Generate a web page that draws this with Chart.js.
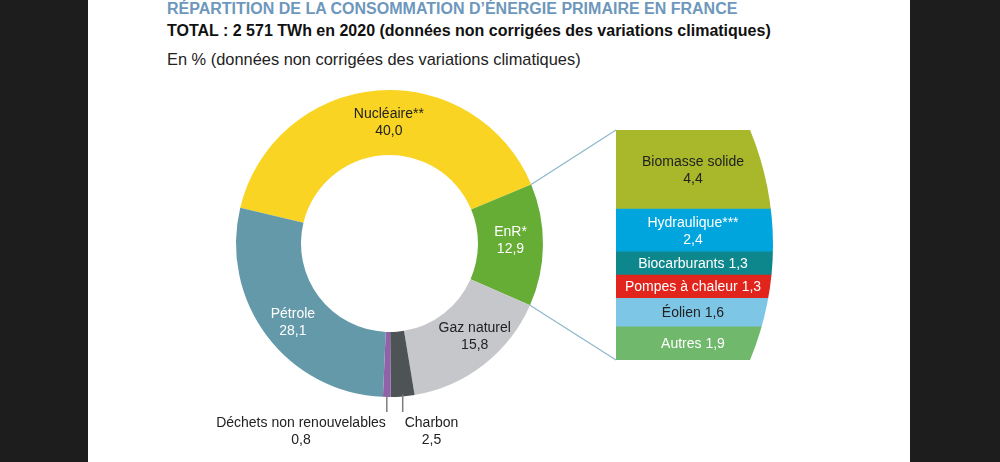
<!DOCTYPE html>
<html lang="fr">
<head>
<meta charset="utf-8">
<title>Répartition de la consommation d'énergie primaire en France</title>
<script src="https://cdn.jsdelivr.net/npm/chart.js@4.4.1/dist/chart.umd.min.js"></script>
<style>
    body {
        margin: 0;
        width: 1000px;
        height: 462px;
        background: #1d1d1e;
        font-family: "Liberation Sans", Arial, Helvetica, sans-serif;
        overflow: hidden;
    }
    #panel {
        position: absolute;
        left: 88px;
        top: 0;
        width: 822px;
        height: 462px;
        background: #fff;
    }
    .txt {
        position: absolute;
        left: 167px;
        font-size: 16px;
        line-height: 18px;
        white-space: nowrap;
    }
    #title { top: 0; font-weight: bold; color: #6e97bc; }
    #total { top: 22px; font-weight: bold; color: #111; }
    #unit { top: 50px; font-size: 16.4px; color: #222; }
    #donutChart { position: absolute; left: 88px; top: 0; }
    #enrChart { position: absolute; left: 616px; top: 130px; }
</style>
</head>
<body>
<div id="panel"></div>
<div class="txt" id="title">RÉPARTITION DE LA CONSOMMATION D’ÉNERGIE PRIMAIRE EN FRANCE</div>
<div class="txt" id="total">TOTAL : 2 571 TWh en 2020 (données non corrigées des variations climatiques)</div>
<div class="txt" id="unit">En % (données non corrigées des variations climatiques)</div>
<canvas id="donutChart" width="822" height="462"></canvas>
<canvas id="enrChart" width="160" height="230"></canvas>
<script>
// main mix, in %
const sources = ["Nucléaire**", "EnR*", "Gaz naturel", "Charbon", "Déchets non renouvelables", "Pétrole"];
const shares = [40.0, 12.9, 15.8, 2.5, 0.8, 28.1];

// detail of EnR, in %, top to bottom
const enrSources = ["Biomasse solide", "Hydraulique***", "Biocarburants", "Pompes à chaleur", "Éolien", "Autres"];
const enrShares = [4.4, 2.4, 1.3, 1.3, 1.6, 1.9];

const sourceColors = ["#f9d422", "#66ad36", "#c6c7ca", "#4e5355", "#9161a9", "#6399a8"];
const sourceTextColors = ["#222", "#fff", "#222", "#222", "#222", "#fff"];
const enrColors = ["#a8b82a", "#00a5dd", "#0e878c", "#e1251c", "#7ec6e6", "#70b86b"];
const enrTextColors = ["#222", "#fff", "#fff", "#fff", "#222", "#fff"];

const FONT = '14px "Liberation Sans", Arial, sans-serif';

function fr(v) {
    return v.toFixed(1).replace(".", ",");
}

Chart.defaults.font.family = '"Liberation Sans", Arial, sans-serif';

// ---- EnR stacked bar (curved right side) ----
const enrTotal = enrShares.reduce((a, b) => a + b, 0);

const curveClip = {
    id: "curveClip",
    beforeDatasetsDraw(chart) {
        const ctx = chart.ctx;
        ctx.save();
        ctx.beginPath();
        ctx.arc(-142, 115, 299, 0, Math.PI * 2);
        ctx.clip();
    },
    afterDatasetsDraw(chart) {
        const ctx = chart.ctx;
        ctx.restore();
        ctx.save();
        ctx.font = FONT;
        ctx.textAlign = "center";
        ctx.textBaseline = "middle";
        chart.data.datasets.forEach((ds, i) => {
            const bar = chart.getDatasetMeta(i).data[0];
            const top = Math.min(bar.y, bar.base);
            const h = Math.abs(bar.base - bar.y);
            const cx = bar.x - 3;
            const cy = top + h / 2 + 1;
            ctx.fillStyle = enrTextColors[i];
            if (h > 40) {
                ctx.fillText(ds.label, cx, cy - 8);
                ctx.fillText(fr(ds.data[0]), cx, cy + 9);
            } else {
                ctx.fillText(ds.label + " " + fr(ds.data[0]), cx, cy);
            }
        });
        ctx.restore();
    }
};

const enrChart = new Chart(document.getElementById("enrChart"), {
    type: "bar",
    data: {
        labels: ["EnR"],
        datasets: enrSources.map((name, i) => ({
            label: name,
            data: [enrShares[i]],
            backgroundColor: enrColors[i],
            borderWidth: 0,
            barPercentage: 1,
            categoryPercentage: 1
        }))
    },
    options: {
        responsive: false,
        animation: false,
        devicePixelRatio: 1,
        layout: { padding: 0 },
        plugins: { legend: { display: false }, tooltip: { enabled: false } },
        scales: {
            x: { display: false, stacked: true },
            y: { display: false, stacked: true, reverse: true, min: 0, max: enrTotal }
        }
    },
    plugins: [curveClip]
});

// ---- main doughnut ----
const donutExtras = {
    id: "donutExtras",
    afterDatasetsDraw(chart) {
        const ctx = chart.ctx;
        const arcs = chart.getDatasetMeta(0).data;
        ctx.save();
        ctx.font = FONT;
        ctx.textAlign = "center";
        ctx.textBaseline = "middle";

        // labels inside the ring
        const nudges = { 0: [9, -1], 1: [0, -5], 2: [11, -3], 5: [0, 6] };
        [0, 1, 2, 5].forEach(i => {
            const p = arcs[i].tooltipPosition();
            const [dx, dy] = nudges[i];
            ctx.fillStyle = sourceTextColors[i];
            ctx.fillText(sources[i], p.x + dx, p.y + dy - 8);
            ctx.fillText(fr(shares[i]), p.x + dx, p.y + dy + 9);
        });

        // small slices: leader lines + labels below
        [4, 3].forEach(i => {
            const a = arcs[i];
            const mid = (a.startAngle + a.endAngle) / 2;
            const lx = a.x + a.outerRadius * Math.cos(mid);
            const ly = a.y + a.outerRadius * Math.sin(mid);
            ctx.strokeStyle = "#7d7d7d";
            ctx.lineWidth = 1.5;
            ctx.beginPath();
            ctx.moveTo(lx, ly - 2);
            ctx.lineTo(lx, 412);
            ctx.stroke();
            const w = ctx.measureText(sources[i]).width;
            const cx = i === 4 ? lx - 1 - w / 2 : lx + 2 + w / 2;
            ctx.fillStyle = "#222";
            ctx.fillText(sources[i], cx, 423);
            ctx.fillText(fr(shares[i]), cx, 440);
        });

        // connectors from EnR slice to the detail bar
        const enr = arcs[1];
        const dxc = enrChart.canvas.offsetLeft - chart.canvas.offsetLeft;
        const dyc = enrChart.canvas.offsetTop - chart.canvas.offsetTop;
        const metas = enrChart.data.datasets.map((d, i) => enrChart.getDatasetMeta(i).data[0]);
        const first = metas[0], last = metas[metas.length - 1];
        const barLeft = first.x - first.width / 2 + dxc;
        const barTop = Math.min(first.y, first.base) + dyc;
        const barBottom = Math.max(last.y, last.base) + dyc;
        ctx.strokeStyle = "#8db7ca";
        ctx.lineWidth = 1.2;
        ctx.beginPath();
        ctx.moveTo(enr.x + enr.outerRadius * Math.cos(enr.startAngle), enr.y + enr.outerRadius * Math.sin(enr.startAngle));
        ctx.lineTo(barLeft, barTop);
        ctx.moveTo(enr.x + enr.outerRadius * Math.cos(enr.endAngle), enr.y + enr.outerRadius * Math.sin(enr.endAngle));
        ctx.lineTo(barLeft, barBottom);
        ctx.stroke();
        ctx.restore();
    }
};

new Chart(document.getElementById("donutChart"), {
    type: "doughnut",
    data: {
        labels: sources,
        datasets: [{
            data: shares,
            backgroundColor: sourceColors,
            borderWidth: 0
        }]
    },
    options: {
        responsive: false,
        animation: false,
        devicePixelRatio: 1,
        rotation: -76.5,
        cutout: 88.5,
        layout: { padding: { left: 148, right: 367, top: 90, bottom: 65 } },
        plugins: { legend: { display: false }, tooltip: { enabled: false } }
    },
    plugins: [donutExtras]
});
</script>
</body>
</html>
